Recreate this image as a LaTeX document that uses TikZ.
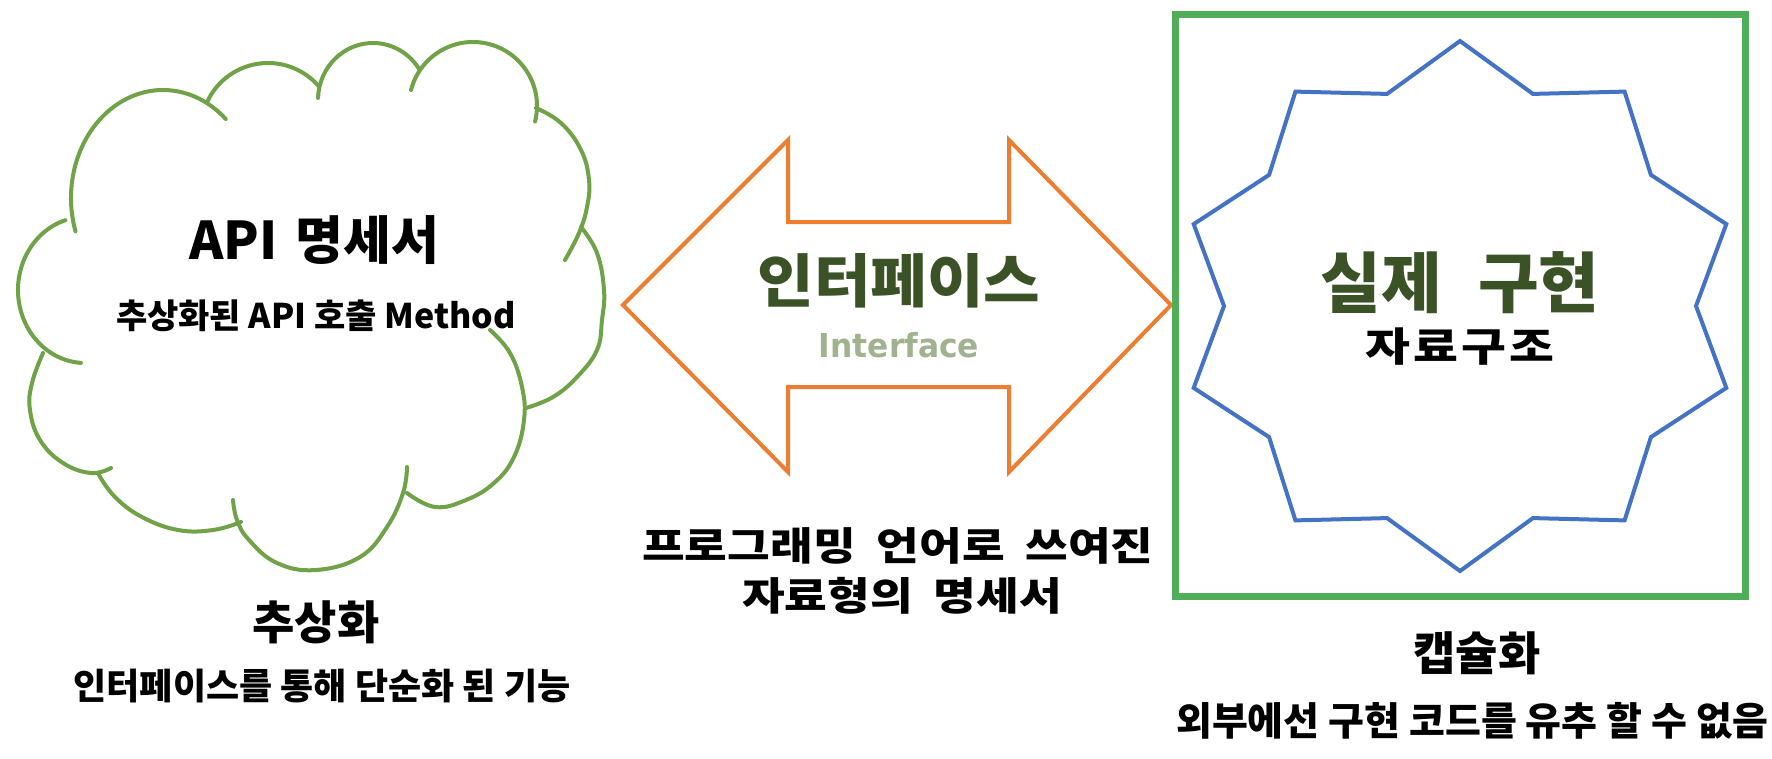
\documentclass[tikz,border=0pt]{standalone}
\usepackage{fontspec}
\newfontfamily\kr{Noto Sans CJK KR}
\newfontfamily\latn{DejaVu Sans}
\definecolor{cloudgreen}{RGB}{112,162,72}
\definecolor{boxgreen}{RGB}{80,174,88}
\definecolor{arroworange}{RGB}{237,125,49}
\definecolor{starblue}{RGB}{68,114,196}
\definecolor{darkgreentext}{RGB}{58,82,38}
\definecolor{lightgreentext}{RGB}{160,178,142}
\tikzset{
  lbl/.style={inner sep=0pt, anchor=center, text=black},
  krfont/.style={font={\kr\bfseries\fontsize{#1}{#1}\selectfont}},
  cloudline/.style={cloudgreen, line width=4pt, line cap=round},
}
\begin{document}
\begin{tikzpicture}[x=1pt,y=-1pt]
\useasboundingbox[fill=white] (0,0) rectangle (1772,758);

% cloud (abstraction): one arc per puff
\draw[cloudline] (85,290) ++(253:67 and 73) arc[start angle=253, end angle=93.5, x radius=67, y radius=73];
\draw[cloudline] (163,198) ++(162:92 and 108) arc[start angle=162, end angle=313, x radius=92, y radius=108];
\draw[cloudline] (268,130) ++(205:67) arc[start angle=205, end angle=319, radius=67];
\draw[cloudline] (373,100) ++(182:55 and 57) arc[start angle=182, end angle=328, x radius=55, y radius=57];
\draw[cloudline] (473,106) ++(194.5:64) arc[start angle=194.5, end angle=374, radius=64];
\draw[cloudline] plot[smooth,tension=0.7] coordinates {(536,108) (561,123) (581,150) (589,180) (587,207) (579,233) (565,260)};
\draw[cloudline] plot[smooth,tension=0.7] coordinates {(581,227) (597,253) (604,290) (602,320) (597,350) (577,377) (553,397) (526,408)};
\draw[cloudline] plot[smooth,tension=0.7] coordinates {(490,330) (510,353) (522,387) (524,420) (514,457) (494,483) (466,500) (435,507) (407,493)};
\draw[cloudline] plot[smooth,tension=0.7] coordinates {(407,467) (403,493) (387,527) (360,557) (316,570) (277,563) (249,540) (237,520) (233,500)};
\draw[cloudline] plot[smooth,tension=0.7] coordinates {(241,522) (213,530) (178,530) (142,517) (115,497) (99,475)};
\draw[cloudline] plot[smooth,tension=0.7] coordinates {(43,353) (32,383) (30,410) (40,440) (63,463) (91,473) (111,468)};

% double arrow (interface)
\coordinate (lt) at (623,305);
\coordinate (rt) at (1171,305);
\draw[arroworange, line width=4pt, line join=miter]
  (lt) -- (788,140) -- (788,222) -- (1009,222) -- (1009,140) -- (rt)
  -- (1009,472) -- (1009,387) -- (788,387) -- (788,472) -- cycle;

% implementation box and star
\draw[boxgreen, line width=7pt] (1175,14) rectangle (1745,596);
\draw[starblue, line width=4pt, line join=miter]
  plot[samples at={0,...,19}, variable=\k]
  ({1460+(mod(\k,2)==0?236:280)*cos(18*\k)}, {306-(mod(\k,2)==0?223:265)*sin(18*\k)}) -- cycle;

% texts
\node[lbl, krfont=52] (api) at (314,240) {API\hspace{0.35em}명세서};
\node[lbl, krfont=34] (apisub) at (316,316) {추상화된 API 호출 Method};
\node[lbl, krfont=46] (abs) at (316,622) {추상화};
\node[lbl, krfont=36] (absdesc) at (322,686) {인터페이스를 통해 단순화 된 기능};

\node[lbl, krfont=58, text=darkgreentext] (ifko) at (899,281) {\scalebox{1.06}[1]{인터페이스}};
\node[lbl, font={\latn\bfseries\fontsize{33}{33}\selectfont}, text=lightgreentext] (ifen) at (899,345) {\scalebox{0.95}[1]{Interface}};
\node[lbl, krfont=39] (ifdesc1) at (898,546) {\scalebox{1.19}[1]{프로그래밍\hspace{0.45em}언어로\hspace{0.45em}쓰여진}};
\node[lbl, krfont=39] (ifdesc2) at (902,596) {\scalebox{1.19}[1]{자료형의\hspace{0.45em}명세서}};

\node[lbl, krfont=66, text=darkgreentext] (impl) at (1460,283) {실제\hspace{0.55em}구현};
\node[lbl, krfont=40] (implsub) at (1460,347) {\scalebox{1.22}[1]{자\hspace{2.5pt}료\hspace{2.5pt}구\hspace{2.5pt}조}};
\node[lbl, krfont=46] (enc) at (1477,653) {캡슐화};
\node[lbl, krfont=39] (encdesc) at (1472,721) {외부에선 구현 코드를 유추 할 수 없음};
\end{tikzpicture}
\end{document}
